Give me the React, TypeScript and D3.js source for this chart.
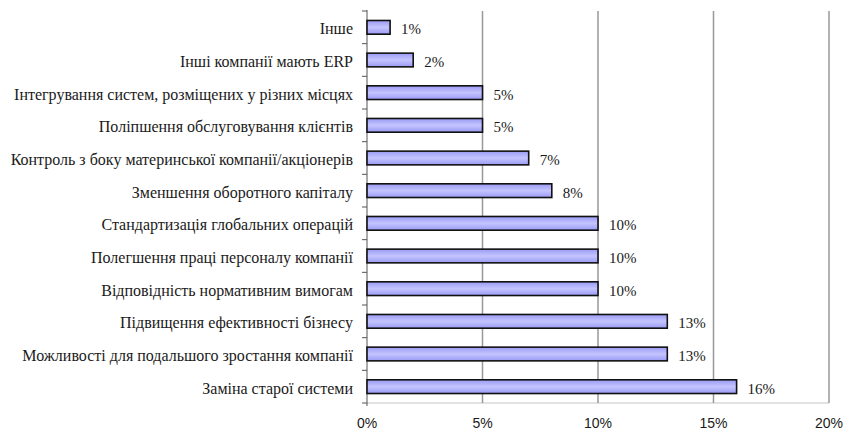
import React from "react";
import * as d3 from "d3";

const categories = [
  "Інше",
  "Інші компанії мають ERP",
  "Інтегрування систем, розміщених у різних місцях",
  "Поліпшення обслуговування клієнтів",
  "Контроль з боку материнської компанії/акціонерів",
  "Зменшення оборотного капіталу",
  "Стандартизація глобальних операцій",
  "Полегшення праці персоналу компанії",
  "Відповідність нормативним вимогам",
  "Підвищення ефективності бізнесу",
  "Можливості для подальшого зростання компанії",
  "Заміна старої системи",
];
const values = [1, 2, 5, 5, 7, 8, 10, 10, 10, 13, 13, 16];
const xTicks = [0, 5, 10, 15, 20];

const W = 851;
const H = 430;
const left = 367;
const right = 829;
const top = 11;
const bottom = 403;

export default function App() {
  const x = d3.scaleLinear().domain([0, 20]).range([left, right]);
  const y = d3.scaleBand<string>().domain(categories).range([top, bottom]).paddingInner(0.58).paddingOuter(0.29);
  const band = d3.scaleBand<string>().domain(categories).range([top, bottom]);
  const serif = "'Liberation Serif'";
  const sans = "'Liberation Sans'";
  return (
    <svg width={W} height={H} style={{ position: "absolute", left: 0, top: 0, background: "#fff" }}>
      <defs>
        <linearGradient id="barGrad" x1="0" y1="0" x2="0" y2="1">
          <stop offset="0%" stopColor="#9a9af4" />
          <stop offset="50%" stopColor="#c4c4ff" />
          <stop offset="100%" stopColor="#9a9af4" />
        </linearGradient>
      </defs>
      <line x1={left} x2={right} y1={bottom} y2={bottom} stroke="#d8d8d8" strokeWidth={1.5} />
      {xTicks.slice(1).map((t) => (
        <line key={t} x1={x(t)} x2={x(t)} y1={top} y2={bottom} stroke="#999" strokeWidth={1.5} />
      ))}
      <line x1={left} x2={left} y1={top - 1} y2={bottom + 3} stroke="#555" strokeWidth={1} />
      {categories.map((c) => (
        <line key={"t" + c} x1={left - 5} x2={left} y1={band(c)!} y2={band(c)!} stroke="#555" strokeWidth={1} />
      ))}
      <line x1={left - 5} x2={left} y1={bottom} y2={bottom} stroke="#555" strokeWidth={1} />
      {categories.map((c, i) => (
        <g key={c}>
          <rect
            x={x(0)}
            y={y(c)!}
            width={x(values[i]) - x(0)}
            height={y.bandwidth()}
            fill="url(#barGrad)"
            stroke="#111"
            strokeWidth={1.6}
          />
          <text
            x={left - 14}
            y={band(c)! + band.bandwidth() / 2 + 7}
            textAnchor="end"
            fontFamily={serif}
            fontSize={16}
            fill="#1a1a1a"
          >
            {c}
          </text>
          <text
            x={x(values[i]) + 11}
            y={band(c)! + band.bandwidth() / 2 + 7}
            fontFamily={serif}
            fontSize={15}
            fill="#1a1a1a"
          >
            {values[i]}%
          </text>
        </g>
      ))}
      {xTicks.map((t) => (
        <text
          key={"x" + t}
          x={x(t)}
          y={428}
          textAnchor="middle"
          fontFamily={sans}
          fontSize={14}
          fill="#1a1a1a"
        >
          {t}%
        </text>
      ))}
    </svg>
  );
}
